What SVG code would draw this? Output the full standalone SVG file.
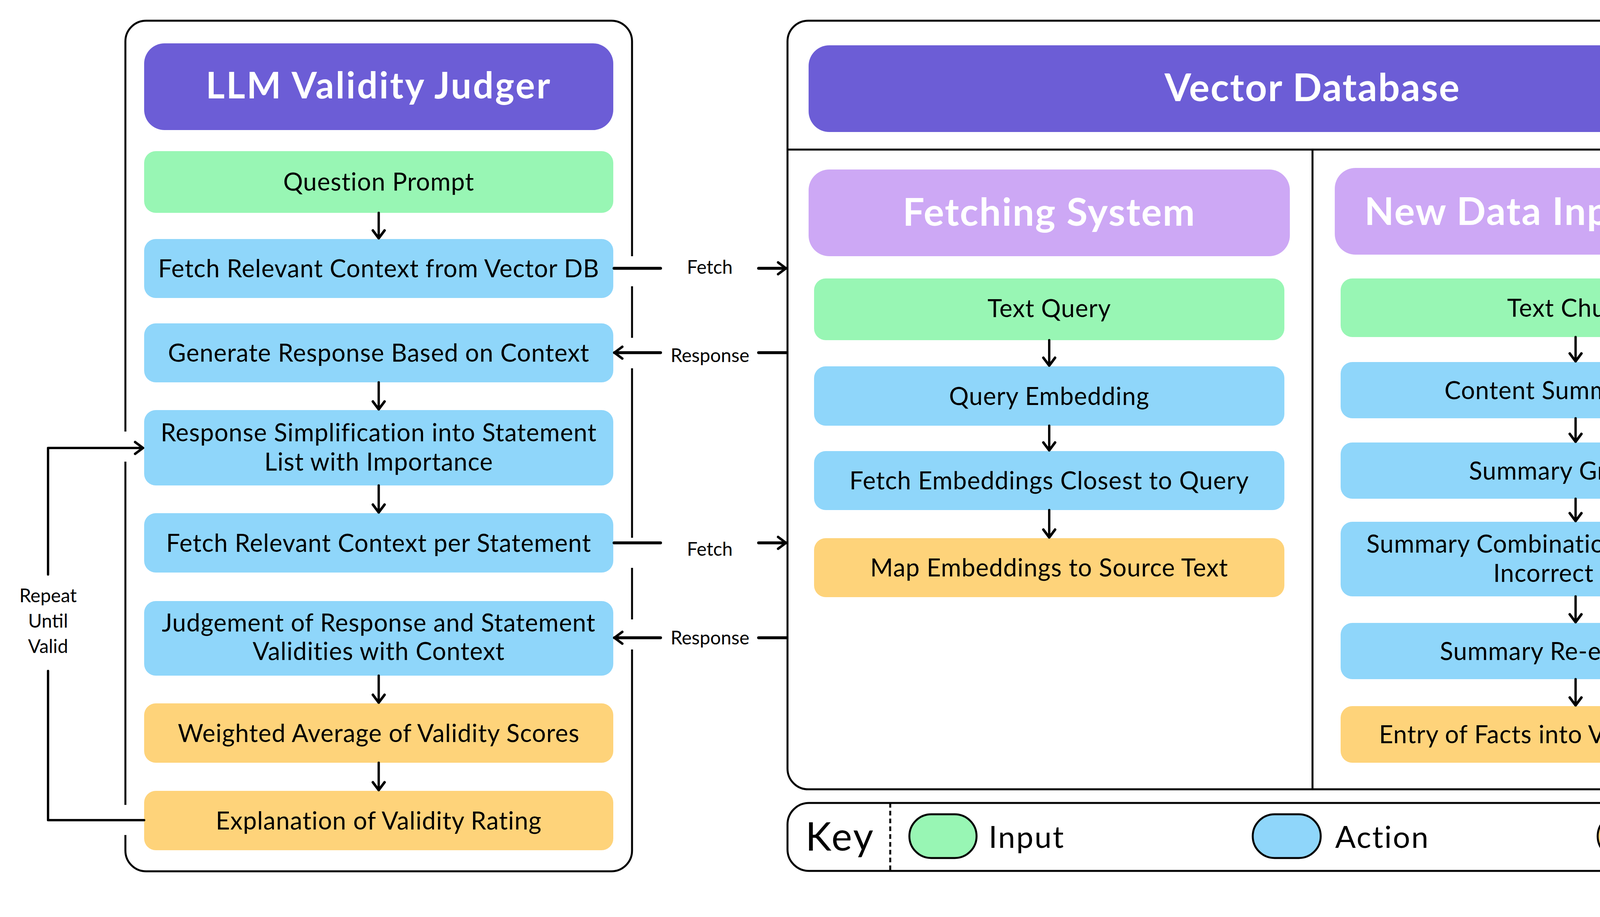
<svg xmlns="http://www.w3.org/2000/svg" width="4729" height="2348" viewBox="0 0 4729 2348">
<defs>
<style>
.frame{fill:none;stroke:#000;stroke-width:5;stroke-linecap:butt}
.hdr{fill:#6C5DD6}
.sub{fill:#CDA8F5}
.in{fill:#98F6B4}
.act{fill:#8FD6FA}
.out{fill:#FED37A}
.t{font-family:"Lato","Liberation Sans",sans-serif;font-size:63px;letter-spacing:1px;fill:#000;text-anchor:middle}
.h{font-family:"Lato","Liberation Sans",sans-serif;font-weight:bold;font-size:98px;letter-spacing:2.5px;fill:#fff;text-anchor:middle}
.lbl{font-family:"Lato","Liberation Sans",sans-serif;font-size:48px;fill:#000;text-anchor:middle}
.key{font-family:"Lato","Liberation Sans",sans-serif;font-size:78px;letter-spacing:3px;fill:#000}
.arr{fill:none;stroke:#000;stroke-width:6;stroke-linecap:round;stroke-linejoin:round}
.link{fill:none;stroke:#000;stroke-width:7.5;stroke-linecap:round;stroke-linejoin:round}
.pill{stroke:#000;stroke-width:5}
</style>
<marker id="chev" markerUnits="userSpaceOnUse" markerWidth="40" markerHeight="40" viewBox="-30 -20 40 40" refX="0" refY="0" orient="auto" overflow="visible">
<path d="M-20,-15 L0,0 L-20,15" fill="none" stroke="#000" stroke-width="6.5" stroke-linecap="round" stroke-linejoin="round"/>
</marker>
</defs>
<rect width="4729" height="2348" fill="#fff"/>

<g id="frames">
<path class="frame" d="M321,1105 V106 A53,53 0 0 1 374,53 H1565 A53,53 0 0 1 1618,106 V656"/>
<path class="frame" d="M1618,733 V865"/>
<path class="frame" d="M1618,943 V1377"/>
<path class="frame" d="M1618,1454 V1586"/>
<path class="frame" d="M1618,1663 V2178 A53,53 0 0 1 1565,2231 H374 A53,53 0 0 1 321,2178 V2138"/>
<path class="frame" d="M321,2061 V1182"/>
<rect class="frame" x="2016" y="53" width="2687" height="1968" rx="53"/>
<line class="frame" x1="2016" y1="383" x2="4703" y2="383"/>
<line class="frame" x1="3360" y1="383" x2="3360" y2="2021"/>
</g>

<g id="llm-validity-judger">
<rect class="hdr" x="369" y="111" width="1201" height="222" rx="52"/>
<text class="h" x="969.5" y="252" style="font-size:93px;letter-spacing:4px">LLM Validity Judger</text>
</g>
<g id="question-prompt">
<rect class="in" x="369" y="387" width="1201" height="158" rx="30"/>
<text class="t" x="969.5" y="488">Question Prompt</text>
</g>
<g id="fetch-context-db">
<rect class="act" x="369" y="612" width="1201" height="151" rx="30"/>
<text class="t" x="969.5" y="710">Fetch Relevant Context from Vector DB</text>
</g>
<g id="generate-response">
<rect class="act" x="369" y="828" width="1201" height="151" rx="30"/>
<text class="t" x="969.5" y="926">Generate Response Based on Context</text>
</g>
<g id="response-simplification">
<rect class="act" x="369" y="1050" width="1201" height="193" rx="30"/>
<text class="t" x="969.5" y="1130">Response Simplification into Statement</text>
<text class="t" x="969.5" y="1205">List with Importance</text>
</g>
<g id="fetch-context-statement">
<rect class="act" x="369" y="1314" width="1201" height="152" rx="30"/>
<text class="t" x="969.5" y="1413">Fetch Relevant Context per Statement</text>
</g>
<g id="judgement">
<rect class="act" x="369" y="1539" width="1201" height="191" rx="30"/>
<text class="t" x="969.5" y="1617">Judgement of Response and Statement</text>
<text class="t" x="969.5" y="1690">Validities with Context</text>
</g>
<g id="weighted-average">
<rect class="out" x="369" y="1801" width="1201" height="152" rx="30"/>
<text class="t" x="969.5" y="1900">Weighted Average of Validity Scores</text>
</g>
<g id="explanation">
<rect class="out" x="369" y="2025" width="1201" height="152" rx="30"/>
<text class="t" x="969.5" y="2124">Explanation of Validity Rating</text>
</g>

<g id="vector-database">
<rect class="hdr" x="2070" y="116" width="2580" height="222" rx="53"/>
<text class="h" x="3360" y="259">Vector Database</text>
</g>
<g id="fetching-system">
<rect class="sub" x="2070" y="434" width="1232" height="222" rx="53"/>
<text class="h" x="2686" y="578">Fetching System</text>
</g>
<g id="text-query">
<rect class="in" x="2084" y="713" width="1204" height="158" rx="30"/>
<text class="t" x="2686" y="812">Text Query</text>
</g>
<g id="query-embedding">
<rect class="act" x="2084" y="938" width="1204" height="152" rx="30"/>
<text class="t" x="2686" y="1037">Query Embedding</text>
</g>
<g id="fetch-embeddings">
<rect class="act" x="2084" y="1155" width="1204" height="151" rx="30"/>
<text class="t" x="2686" y="1253">Fetch Embeddings Closest to Query</text>
</g>
<g id="map-embeddings">
<rect class="out" x="2084" y="1378" width="1204" height="151" rx="30"/>
<text class="t" x="2686" y="1476">Map Embeddings to Source Text</text>
</g>

<g id="new-data-input-system">
<rect class="sub" x="3417" y="430" width="1233" height="222" rx="53"/>
<text class="h" x="4033.5" y="576">New Data Input System</text>
</g>
<g id="text-chunks">
<rect class="in" x="3432" y="713" width="1203" height="150" rx="30"/>
<text class="t" x="4033.5" y="811">Text Chunks</text>
</g>
<g id="content-summarization">
<rect class="act" x="3432" y="927" width="1203" height="144" rx="30"/>
<text class="t" x="4033.5" y="1022">Content Summarization</text>
</g>
<g id="summary-grouping">
<rect class="act" x="3432" y="1133" width="1203" height="144" rx="30"/>
<text class="t" x="4033.5" y="1228">Summary Grouping</text>
</g>
<g id="summary-combination">
<rect class="act" x="3432" y="1336" width="1203" height="191" rx="30"/>
<text class="t" x="4033.5" y="1415">Summary Combination/Elimination of</text>
<text class="t" x="4033.5" y="1490">Incorrect Facts</text>
</g>
<g id="summary-reembedding">
<rect class="act" x="3432" y="1595" width="1203" height="144" rx="30"/>
<text class="t" x="4033.5" y="1690">Summary Re-embedding</text>
</g>
<g id="entry-of-facts">
<rect class="out" x="3432" y="1808" width="1203" height="145" rx="30"/>
<text class="t" x="4033.5" y="1903">Entry of Facts into Vector Database</text>
</g>

<g id="key">
<rect class="frame" x="2016" y="2056" width="2687" height="174" rx="55"/>
<line x1="2279" y1="2056" x2="2279" y2="2230" stroke="#000" stroke-width="5" stroke-dasharray="12,8"/>
<text class="key" x="2062" y="2178" style="font-size:100px;letter-spacing:4px">Key</text>
<rect class="in pill" x="2328" y="2085" width="172" height="112" rx="56"/>
<text class="key" x="2531" y="2171">Input</text>
<rect class="act pill" x="3207" y="2085" width="174" height="112" rx="56"/>
<text class="key" x="3418" y="2171">Action</text>
<rect class="out pill" x="4090" y="2085" width="173" height="112" rx="56"/>
<text class="key" x="4300" y="2171">Output</text>
</g>

<g id="connectors">
<path class="arr" d="M969.5,545 V610" marker-end="url(#chev)"/>
<path class="arr" d="M969.5,979 V1048" marker-end="url(#chev)"/>
<path class="arr" d="M969.5,1243 V1312" marker-end="url(#chev)"/>
<path class="arr" d="M969.5,1730 V1799" marker-end="url(#chev)"/>
<path class="arr" d="M969.5,1953 V2023" marker-end="url(#chev)"/>
<path class="arr" d="M2686,871 V936" marker-end="url(#chev)"/>
<path class="arr" d="M2686,1090 V1153" marker-end="url(#chev)"/>
<path class="arr" d="M2686,1306 V1376" marker-end="url(#chev)"/>
<path class="arr" d="M4033.5,863 V925" marker-end="url(#chev)"/>
<path class="arr" d="M4033.5,1071 V1131" marker-end="url(#chev)"/>
<path class="arr" d="M4033.5,1277 V1334" marker-end="url(#chev)"/>
<path class="arr" d="M4033.5,1527 V1593" marker-end="url(#chev)"/>
<path class="arr" d="M4033.5,1739 V1806" marker-end="url(#chev)"/>

<path class="link" d="M1572,687 H1691"/>
<path class="link" d="M1942,687 H2012" marker-end="url(#chev)"/>
<text class="lbl" x="1817" y="701">Fetch</text>
<path class="link" d="M2013,903 H1942"/>
<path class="link" d="M1691,903 H1573" marker-end="url(#chev)"/>
<text class="lbl" x="1817.5" y="927">Response</text>
<path class="link" d="M1572,1390 H1691"/>
<path class="link" d="M1942,1390 H2012" marker-end="url(#chev)"/>
<text class="lbl" x="1817" y="1423">Fetch</text>
<path class="link" d="M2013,1633 H1942"/>
<path class="link" d="M1691,1633 H1573" marker-end="url(#chev)"/>
<text class="lbl" x="1817.5" y="1650">Response</text>

<path class="arr" d="M369,2100 H123 V1718"/>
<path class="arr" d="M123,1471 V1147 H366" marker-end="url(#chev)"/>
<text class="lbl" x="123" y="1542" font-size="46">Repeat</text>
<text class="lbl" x="123" y="1607" font-size="46">Until</text>
<text class="lbl" x="123" y="1672" font-size="46">Valid</text>
</g>
</svg>
